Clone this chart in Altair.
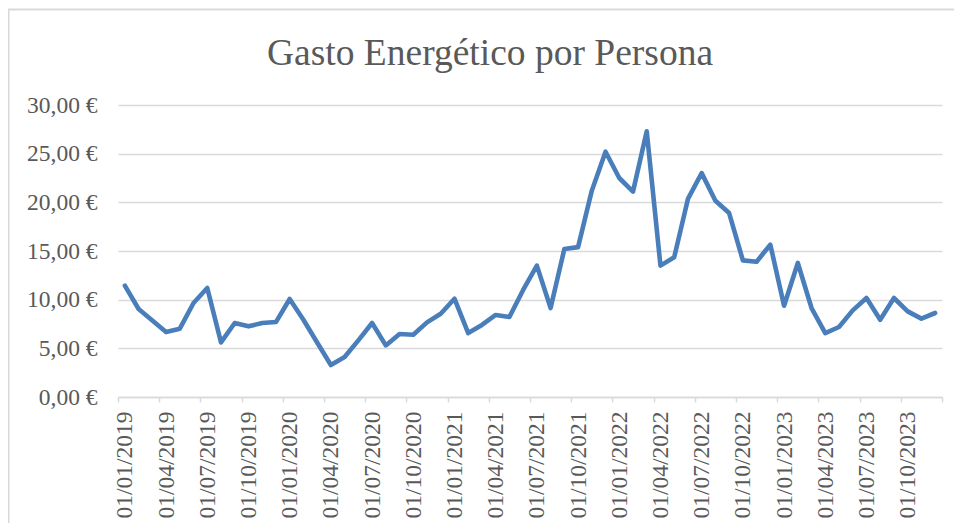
import altair as alt
import pandas as pd

years = [2019, 2020, 2021, 2022, 2023]
month_numbers = list(range(1, 13))
months = [f"{y}-{m:02d}" for y in years for m in month_numbers]

gasto = [
    11.44, 9.04, 7.87, 6.68, 7.02, 9.66, 11.20, 5.61, 7.60, 7.26, 7.60, 7.70,
    10.07, 7.94, 5.60, 3.29, 4.11, 5.82, 7.60, 5.30, 6.47, 6.40, 7.67, 8.56,
    10.10, 6.57, 7.40, 8.43, 8.22, 11.00, 13.50, 9.14, 15.20, 15.40, 21.20, 25.20,
    22.50, 21.10, 27.30, 13.50, 14.35, 20.35, 23.00, 20.17, 18.90, 14.04, 13.90, 15.65,
    9.38, 13.77, 9.14, 6.57, 7.19, 8.90, 10.17, 7.94, 10.17, 8.80, 8.05, 8.63,
]

y_ticks = [0, 5, 10, 15, 20, 25, 30]
x_ticks = list(range(0, 61, 3))
title_text = "Gasto Energético por Persona"

df = pd.DataFrame({"mes": months, "gasto": gasto})
df["idx"] = range(len(df))

FONT = "Liberation Serif"
GRAY = "#595959"
LIGHT = "#d9d9d9"

base = alt.Chart(df).transform_calculate(pos="datum.idx + 0.5")

line = base.mark_line(color="#4A7EBB", strokeWidth=4.6, strokeJoin="round", strokeCap="round").encode(
    x=alt.X(
        "pos:Q",
        scale=alt.Scale(domain=[0, 60], nice=False, zero=False),
        axis=alt.Axis(
            values=x_ticks,
            title=None,
            grid=False,
            domain=True,
            domainColor=LIGHT,
            domainWidth=1.5,
            ticks=True,
            tickColor=LIGHT,
            tickWidth=1.5,
            tickSize=5,
            labelAngle=270,
            labelOffset=6.87,
            labelPadding=9,
            labelFont=FONT,
            labelFontSize=23.5,
            labelColor=GRAY,
            labelOverlap=False,
            labelFlush=False,
            labelExpr="datum.value >= 60 ? '' : '01/' + ((datum.value % 12) < 9 ? '0' : '') + ((datum.value % 12) + 1) + '/' + (2019 + floor(datum.value / 12))",
        ),
    ),
    y=alt.Y(
        "gasto:Q",
        scale=alt.Scale(domain=[0, 30], nice=False),
        axis=alt.Axis(
            values=y_ticks,
            title=None,
            grid=True,
            gridColor=LIGHT,
            gridWidth=1.5,
            domain=False,
            ticks=False,
            labelPadding=21,
            labelFont=FONT,
            labelFontSize=23.5,
            labelColor=GRAY,
            labelExpr="replace(format(datum.value, '.2f'), '.', ',') + ' €'",
        ),
    ),
)

frame = alt.Chart(pd.DataFrame({"a": [0]})).mark_rect(
    fill=None, stroke=LIGHT, strokeWidth=2
).encode(
    x=alt.value(-109.5), x2=alt.value(900), y=alt.value(-95.5), y2=alt.value(600)
)

title = alt.Chart(pd.DataFrame({"t": [title_text]})).mark_text(
    font=FONT, fontSize=37.5, color=GRAY, align="center", baseline="alphabetic"
).encode(
    text="t:N", x=alt.value(372), y=alt.value(-40)
)

chart = alt.layer(frame, line, title).properties(
    width=824,
    height=292,
    padding={"left": 110, "top": 97, "right": 12, "bottom": 126},
    autosize=alt.AutoSizeParams(type="none"),
).configure_view(stroke=None)

chart.save("out.html", embed_options={"renderer": "svg", "actions": False})
